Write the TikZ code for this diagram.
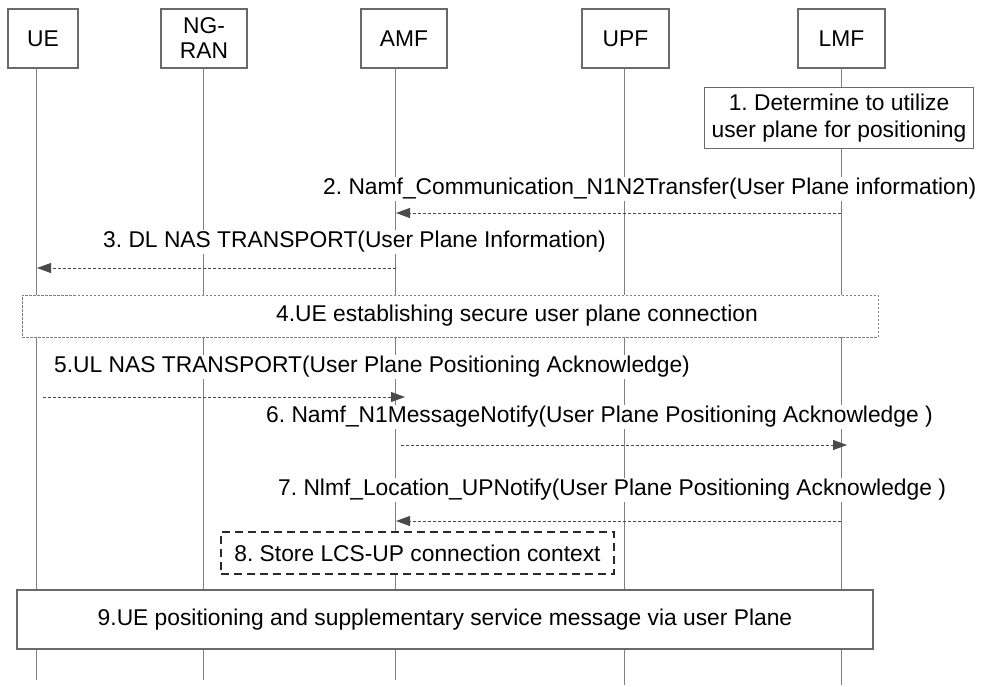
\documentclass[tikz,border=0pt]{standalone}
\usepackage{fontspec}
\setmainfont{Liberation Sans}
\usetikzlibrary{arrows.meta}
\definecolor{linegray}{HTML}{7F7F7F}
\definecolor{boxgray}{HTML}{6A6A6A}
\definecolor{msggray}{HTML}{4A4A4A}
\definecolor{dashdark}{HTML}{2A2A2A}
\frenchspacing
\begin{document}
\begin{tikzpicture}[x=1pt,y=-1pt,
  every node/.style={font=\fontsize{22.8}{26}\selectfont, text=black},
  hdr/.style={draw=boxgray, line width=1.2pt, fill=white, minimum height=59pt, inner sep=0pt, align=center},
  life/.style={draw=linegray, line width=1pt},
  msg/.style={draw=msggray, line width=0.9pt, dash pattern=on 3pt off 2pt, -{Triangle[length=14pt,width=10pt]}},
  lbl/.style={fill=white, inner xsep=2pt, inner ysep=1pt, anchor=west},
]
\useasboundingbox (0,0) rectangle (982,686);
\fill[white] (0,0) rectangle (982,686);

% header boxes
\node[hdr, minimum width=70pt] (ue) at (43,38.5) {UE};
\node[hdr, minimum width=86pt, font=\fontsize{22.8}{25}\selectfont] (ran) at (204,38.5) {NG-\\RAN};
\node[hdr, minimum width=86pt] (amf) at (404,38.5) {AMF};
\node[hdr, minimum width=87pt] (upf) at (625.5,38.5) {UPF};
\node[hdr, minimum width=87pt] (lmf) at (841.5,38.5) {LMF};

% lifeline ends
\coordinate (ueB) at (36,680);
\coordinate (ranB) at (203.5,680);
\coordinate (amfB) at (395.5,680);
\coordinate (upfB) at (624.5,685);
\coordinate (lmfB) at (841,685);

\draw[life] (ue.south -| ueB) -- (ueB);
\draw[life] (ran.south -| ranB) -- (ranB);
\draw[life] (amf.south -| amfB) -- (amfB);
\draw[life] (upf.south -| upfB) -- (upfB);
\draw[life] (lmf.south -| lmfB) -- (lmfB);

% step 1
\node[draw=boxgray, line width=1.2pt, fill=white, align=center, inner xsep=7pt, inner ysep=6pt,
      font=\fontsize{22.8}{27}\selectfont, anchor=east] (s1) at (974,118)
      {1. Determine to utilize\\user plane for positioning};

% step 2
\node[lbl] (t2) at (321,189) {2. Namf\_Communication\_N1N2Transfer(User Plane information)};
\coordinate (a2s) at (841,213);
\coordinate (a2e) at (396,213);
\draw[msg] (a2s) -- (a2e);

% step 3
\node[lbl] (t3) at (101,242) {3. DL NAS TRANSPORT(User Plane Information)};
\coordinate (a3s) at (395.5,268);
\coordinate (a3e) at (37,268);
\draw[msg] (a3s) -- (a3e);

% step 4
\node[draw=linegray, line width=0.8pt, dash pattern=on 2.5pt off 1.5pt, fill=white,
      minimum width=856pt, minimum height=42pt, inner sep=0pt] (s4) at (450,316) {};
\node[anchor=west, inner sep=0pt] (t4) at (276,316) {4.UE establishing secure user plane connection};

% step 5
\node[lbl] (t5) at (52,367) {5.UL NAS TRANSPORT(User Plane Positioning Acknowledge)};
\coordinate (a5s) at (43,397);
\coordinate (a5e) at (405,397);
\draw[msg] (a5s) -- (a5e);

% step 6
\node[lbl] (t6) at (264,417) {6. Namf\_N1MessageNotify(User Plane Positioning Acknowledge )};
\coordinate (a6s) at (401,445);
\coordinate (a6e) at (847,445);
\draw[msg] (a6s) -- (a6e);

% step 7
\node[lbl] (t7) at (276,490) {7. Nlmf\_Location\_UPNotify(User Plane Positioning Acknowledge )};
\coordinate (a7s) at (841,521);
\coordinate (a7e) at (396,521);
\draw[msg] (a7s) -- (a7e);

% step 8
\node[draw=dashdark, line width=1.3pt, dash pattern=on 8pt off 5pt, fill=white,
      minimum width=393pt, minimum height=42pt, inner sep=0pt] (s8) at (417.5,553)
      {8. Store LCS-UP connection context};

% step 9
\node[draw=boxgray, line width=1.2pt, fill=white,
      minimum width=856pt, minimum height=59pt, inner sep=0pt] (s9) at (445,619.5)
      {9.UE positioning and supplementary service message via user Plane};
\end{tikzpicture}
\end{document}
